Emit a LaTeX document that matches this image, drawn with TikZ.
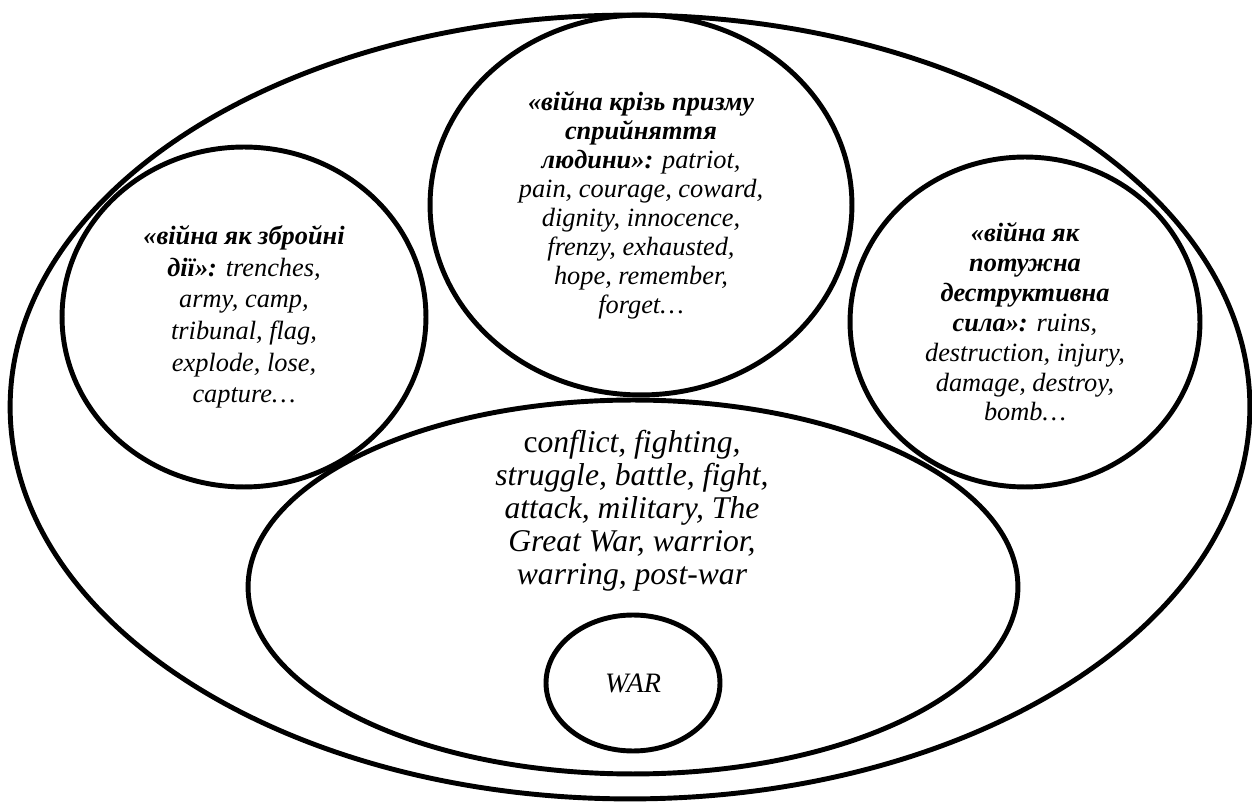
\documentclass[tikz,border=0pt]{standalone}
\usepackage{fontspec}
\setmainfont{Liberation Serif}[BoldItalicFont={* Bold Italic}]
\usetikzlibrary{shapes.geometric, positioning}
\newcommand{\concept}[1]{\textbf{#1}}
\tikzset{fieldshape/.style={ellipse, draw, line width=2.8pt, inner sep=0pt, align=center}}
\tikzset{smallfield/.style={fieldshape, font=\fontsize{15}{16.5}\selectfont\itshape}}
\tikzset{corefield/.style={fieldshape, font=\fontsize{16}{18}\selectfont\itshape}}

\begin{document}
\begin{tikzpicture}[x=0.02cm, y=-0.02cm]
\useasboundingbox (0,0) rectangle (1252,803);
% Fields
\node (Periphery) [fieldshape, minimum width=24.8cm, minimum height=15.68cm] at (630,407) {};

\node (ArmedActions) [smallfield, font=\fontsize{15}{18}\selectfont\itshape, minimum width=7.28cm, minimum height=6.8cm] at (244,317)
  {\concept{«війна як збройні}\\ \concept{дії»:} trenches,\\ army, camp,\\ tribunal, flag,\\ explode, lose,\\ capture…};

\node (HumanPerception) [smallfield, minimum width=8.44cm, minimum height=7.6cm] at (641,205)
  {\concept{«війна крізь призму}\\ \concept{сприйняття}\\ \concept{людини»:} patriot,\\ pain, courage, coward,\\ dignity, innocence,\\ frenzy, exhausted,\\ hope, remember,\\ forget…};

\node (DestructiveForce) [smallfield, font=\fontsize{15}{17}\selectfont\itshape, minimum width=7.0cm, minimum height=6.6cm] at (1025,322)
  {\concept{«війна як}\\ \concept{потужна}\\ \concept{деструктивна}\\ \concept{сила»:} ruins,\\ destruction, injury,\\ damage, destroy,\\ bomb…};

\node (NearField) [fieldshape, minimum width=15.4cm, minimum height=7.48cm] at (633,587) {};
\node (NearFieldText) [align=center, font=\fontsize{18}{18.8}\selectfont\itshape] at (632,511)
  {\textup{c}onflict, fighting,\\ struggle, battle, fight,\\ attack, military, The\\ Great War, warrior,\\ warring, post-war};

\node (Core) [corefield, minimum width=3.48cm, minimum height=2.72cm] at (633,683) {WAR};

\end{tikzpicture}
\end{document}
